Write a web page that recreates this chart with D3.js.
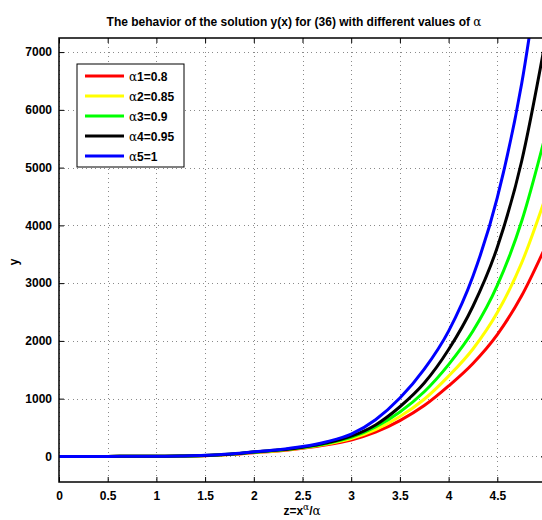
<!DOCTYPE html>
<html>
<head>
<meta charset="utf-8">
<script src="https://cdn.jsdelivr.net/npm/d3@7"></script>
<style>
  body { margin: 0; background: #fff; }
  svg { display: block; font-family: "Liberation Sans", Arial, Helvetica, sans-serif; }
</style>
</head>
<body>
<svg id="chart" width="542" height="520"></svg>
<script>
// ---- data ----
const zValues = [0, 0.25, 0.5, 0.75, 1, 1.25, 1.5, 1.75, 2, 2.25, 2.5, 2.75, 3, 3.25, 3.5, 3.75, 4, 4.25, 4.5, 4.75, 5];
const alpha1 = [0, 0, 0.5, 1, 2, 6, 13, 32, 65, 95, 140, 200, 285, 420, 620, 880, 1220, 1610, 2110, 2780, 3650];
const alpha2 = [0, 0, 0.5, 1, 3, 7, 15, 35, 70, 100, 150, 215, 310, 465, 690, 990, 1390, 1860, 2490, 3350, 4510];
const alpha3 = [0, 0, 0.5, 1, 3, 7, 16, 36, 72, 105, 155, 225, 330, 510, 770, 1120, 1590, 2170, 2960, 4070, 5600];
const alpha4 = [0, 0, 0.5, 1, 3, 8, 17, 38, 75, 110, 160, 235, 350, 545, 860, 1270, 1850, 2600, 3620, 5110, 7250];
const alpha5 = [0, 0, 0.5, 1, 3, 8, 18, 40, 80, 115, 170, 255, 385, 635, 1010, 1510, 2170, 3120, 4480, 6450, 9300];
const seriesNames = ["1=0.8", "2=0.85", "3=0.9", "4=0.95", "5=1"];
const seriesColors = ["#ff0000", "#ffff00", "#00ff00", "#000000", "#0000ff"];
const xTicks = [0, 0.5, 1, 1.5, 2, 2.5, 3, 3.5, 4, 4.5, 5];
const yTicks = [0, 1000, 2000, 3000, 4000, 5000, 6000, 7000];
const xDomain = [0, 5];
const yDomain = [-443, 7244];

const allSeries = [alpha1, alpha2, alpha3, alpha4, alpha5];

// ---- layout ----
const L = 59, R = 546, T = 38, B = 482;
const svg = d3.select("#chart");
const x = d3.scaleLinear().domain(xDomain).range([L, R]);
const y = d3.scaleLinear().domain(yDomain).range([B, T]);

svg.append("defs").append("clipPath").attr("id", "clip")
  .append("rect").attr("x", L).attr("y", T).attr("width", R - L).attr("height", B - T);

// grid
const grid = svg.append("g").attr("stroke", "#8a8a8a").attr("stroke-width", 1)
  .attr("stroke-dasharray", "1,3.5").attr("shape-rendering", "crispEdges");
xTicks.forEach(t => {
  grid.append("line").attr("x1", Math.round(x(t)) + 0.5).attr("x2", Math.round(x(t)) + 0.5)
    .attr("y1", T).attr("y2", B);
});
yTicks.forEach(t => {
  grid.append("line").attr("y1", Math.round(y(t)) + 0.5).attr("y2", Math.round(y(t)) + 0.5)
    .attr("x1", L).attr("x2", R);
});

// axes (ticks inward)
const tickLen = 5;
const xAxisB = d3.axisBottom(x).tickValues(xTicks).tickSize(-tickLen).tickPadding(9)
  .tickFormat(d3.format("~g"));
const xAxisT = d3.axisTop(x).tickValues(xTicks).tickSize(-tickLen).tickFormat("");
const yAxisL = d3.axisLeft(y).tickValues(yTicks).tickSize(-tickLen).tickPadding(7)
  .tickFormat(d3.format("d"));
const yAxisR = d3.axisRight(y).tickValues(yTicks).tickSize(-tickLen).tickFormat("");

function styleAxis(g) {
  g.select(".domain").remove();
  g.selectAll(".tick line").attr("stroke", "#000");
  g.selectAll("text").attr("fill", "#000").attr("font-size", 12).attr("font-weight", "bold")
    .attr("font-family", "'Liberation Sans', Arial, sans-serif");
}
svg.append("g").attr("transform", `translate(0,${B})`).call(xAxisB).call(styleAxis);
svg.append("g").attr("transform", `translate(0,${T})`).call(xAxisT).call(styleAxis);
svg.append("g").attr("transform", `translate(${L},0)`).call(yAxisL).call(styleAxis);
svg.append("g").attr("transform", `translate(${R},0)`).call(yAxisR).call(styleAxis);

// lines
const line = d3.line().x((d, i) => x(zValues[i])).y(d => y(d)).curve(d3.curveMonotoneX);
const lines = svg.append("g").attr("clip-path", "url(#clip)");
allSeries.forEach((s, i) => {
  lines.append("path").datum(s).attr("d", line).attr("fill", "none")
    .attr("stroke", seriesColors[i]).attr("stroke-width", 3)
    .attr("stroke-linejoin", "round");
});

// box
svg.append("rect").attr("x", L).attr("y", T).attr("width", R - L).attr("height", B - T)
  .attr("fill", "none").attr("stroke", "#000").attr("stroke-width", 1.5);

// legend
const lg = svg.append("g");
lg.append("rect").attr("x", 77).attr("y", 64).attr("width", 107).attr("height", 103)
  .attr("fill", "#fff").attr("stroke", "#000").attr("stroke-width", 1);
seriesNames.forEach((n, i) => {
  const yy = 76 + i * 20;
  lg.append("line").attr("x1", 85).attr("x2", 124).attr("y1", yy).attr("y2", yy)
    .attr("stroke", seriesColors[i]).attr("stroke-width", 3);
  const t = lg.append("text").attr("x", 129).attr("y", yy + 4.5).attr("font-size", 12)
    .attr("fill", "#000");
  t.append("tspan").attr("font-family", "'DejaVu Serif', serif").attr("font-size", 12).text("α");
  t.append("tspan").attr("font-weight", "bold").text(n);
});

// title
const title = svg.append("text").attr("x", 294).attr("y", 26).attr("text-anchor", "middle")
  .attr("font-size", 12).attr("fill", "#000");
title.append("tspan").attr("font-weight", "bold")
  .text("The behavior of the solution y(x) for (36) with different values of ");
title.append("tspan").attr("font-family", "'DejaVu Serif', serif").text("α");

// x label
const xl = svg.append("text").attr("x", 302).attr("y", 515).attr("text-anchor", "middle")
  .attr("font-size", 12).attr("font-weight", "bold").attr("fill", "#000");
xl.append("tspan").text("z=x");
xl.append("tspan").attr("dy", -5).attr("font-size", 9).attr("font-weight", "normal")
  .attr("font-family", "'DejaVu Serif', serif").text("α");
xl.append("tspan").attr("dy", 5).text("/");
xl.append("tspan").attr("font-weight", "normal").attr("font-family", "'DejaVu Serif', serif").text("α");

// y label
svg.append("text").attr("transform", "translate(18,262) rotate(-90)").attr("text-anchor", "middle")
  .attr("font-size", 12).attr("font-weight", "bold").attr("fill", "#000").text("y");
</script>
</body>
</html>
